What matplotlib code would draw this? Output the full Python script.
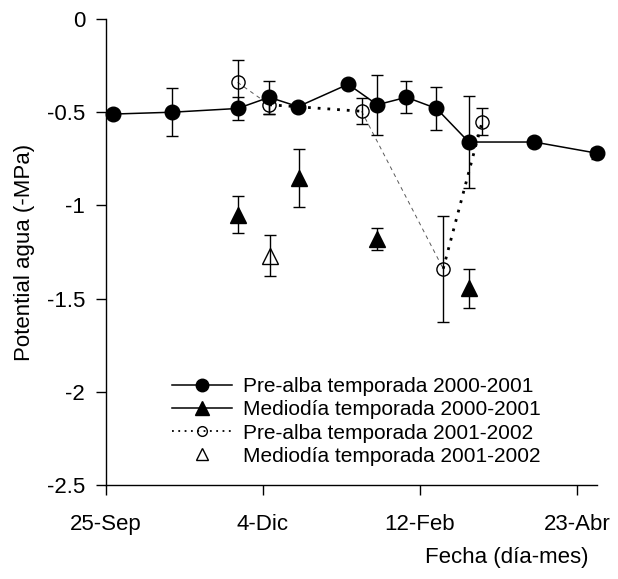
import matplotlib
matplotlib.use("Agg")
import matplotlib.pyplot as plt
from matplotlib.lines import Line2D

plt.rcParams['font.family'] = ['Liberation Sans', 'DejaVu Sans']
plt.rcParams['axes.unicode_minus'] = False

# x = days after 25-Sep
pre1_day = [3.3, 29.6, 58.7, 72.8, 85.7, 108, 121, 134, 147.4, 161.8, 191, 219]
pre1_val = [-0.51, -0.50, -0.48, -0.42, -0.47, -0.35, -0.46, -0.42, -0.48, -0.66, -0.66, -0.72]
pre1_err = [0.0, 0.13, 0.06, 0.09, 0.0, 0.0, 0.16, 0.085, 0.115, 0.245, 0.02, 0.03]

mid1_day = [59, 86, 121, 161.8]
mid1_val = [-1.05, -0.855, -1.18, -1.445]
mid1_err = [0.10, 0.155, 0.06, 0.105]

pre2_day = [58.7, 72.8, 114, 150.4, 167.8]
pre2_val = [-0.34, -0.46, -0.495, -1.34, -0.55]
pre2_err = [0.12, 0.05, 0.07, 0.285, 0.07]

mid2_day = [73]
mid2_val = [-1.27]
mid2_err = [0.11]

labels = ['Pre-alba temporada 2000-2001', 'Mediodía temporada 2000-2001',
          'Pre-alba temporada 2001-2002', 'Mediodía temporada 2001-2002']
x_ticks = [0, 70, 140, 210]
x_ticklabels = ['25-Sep', '4-Dic', '12-Feb', '23-Abr']
y_ticks = [0, -0.5, -1, -1.5, -2, -2.5]
y_ticklabels = ['0', '-0.5', '-1', '-1.5', '-2', '-2.5']

fig = plt.figure(figsize=(6.18, 5.79), dpi=100)
ax = fig.add_axes([106 / 618, 94 / 579, 491 / 618, 466 / 579])

bar_kw = dict(ecolor='k', elinewidth=1, capsize=4.3, capthick=1)

# open circles: dotted line, drawn segment by segment (thin/thick alternate as in source)
for i in range(len(pre2_day) - 1):
    xs = pre2_day[i:i + 2]
    ys = pre2_val[i:i + 2]
    if i % 2 == 0:
        ax.plot(xs, ys, color='0.35', lw=0.7, ls=(0, (4, 4)), zorder=1)
    else:
        ax.plot(xs, ys, color='k', lw=2, ls=(0, (1, 2.5)), zorder=1)
ax.errorbar(pre2_day, pre2_val, yerr=pre2_err, fmt='o', color='k', mfc='none',
            mec='k', mew=1, ms=9.5, zorder=3, **bar_kw)

eb = ax.errorbar(pre1_day, pre1_val, yerr=pre1_err, fmt='-o', color='k', lw=1.1,
                 ms=10.5, zorder=2, **bar_kw)
eb[0].set_clip_on(False)

ax.errorbar(mid1_day, mid1_val, yerr=mid1_err, fmt='^', color='k', ms=11, zorder=2, **bar_kw)
ax.errorbar(mid2_day, mid2_val, yerr=mid2_err, fmt='^', color='k', mfc='none',
            mec='k', mew=1, ms=11, zorder=2, **bar_kw)

ax.set_xlim(0, 219)
ax.set_ylim(-2.5, 0)
ax.set_xticks(x_ticks)
ax.set_xticklabels(x_ticklabels)
ax.set_yticks(y_ticks)
ax.set_yticklabels(y_ticklabels)
ax.tick_params(direction='out', length=7, width=1, labelsize=16, colors='k')
ax.tick_params(axis='x', pad=14)
ax.tick_params(axis='y', pad=8)
for side in ['top', 'right']:
    ax.spines[side].set_visible(False)
for side in ['left', 'bottom']:
    ax.spines[side].set_linewidth(1)

fig.text(25 / 618, 1 - 252 / 579, 'Potential agua (-MPa)', rotation=90,
         ha='center', va='center', fontsize=16)
fig.text(507 / 618, 1 - 558 / 579, 'Fecha (día-mes)', ha='center', va='center', fontsize=16)

handles = [
    Line2D([], [], color='k', lw=1.1, marker='o', ms=9),
    Line2D([], [], color='k', lw=1.1, marker='^', ms=10),
    Line2D([], [], color='k', lw=1.3, ls=(0, (1, 2.5)), marker='o', mfc='none', ms=7),
    Line2D([], [], color='k', ls='none', marker='^', mfc='none', ms=9),
]
ax.legend(handles, labels, loc='center left', bbox_to_anchor=(172 / 618, 1 - 421.5 / 579),
          bbox_transform=fig.transFigure, frameon=False, fontsize=15, handlelength=2.9,
          handletextpad=0.5, labelspacing=0.2, borderpad=0, borderaxespad=0)

fig.savefig('out.png', dpi=100)
